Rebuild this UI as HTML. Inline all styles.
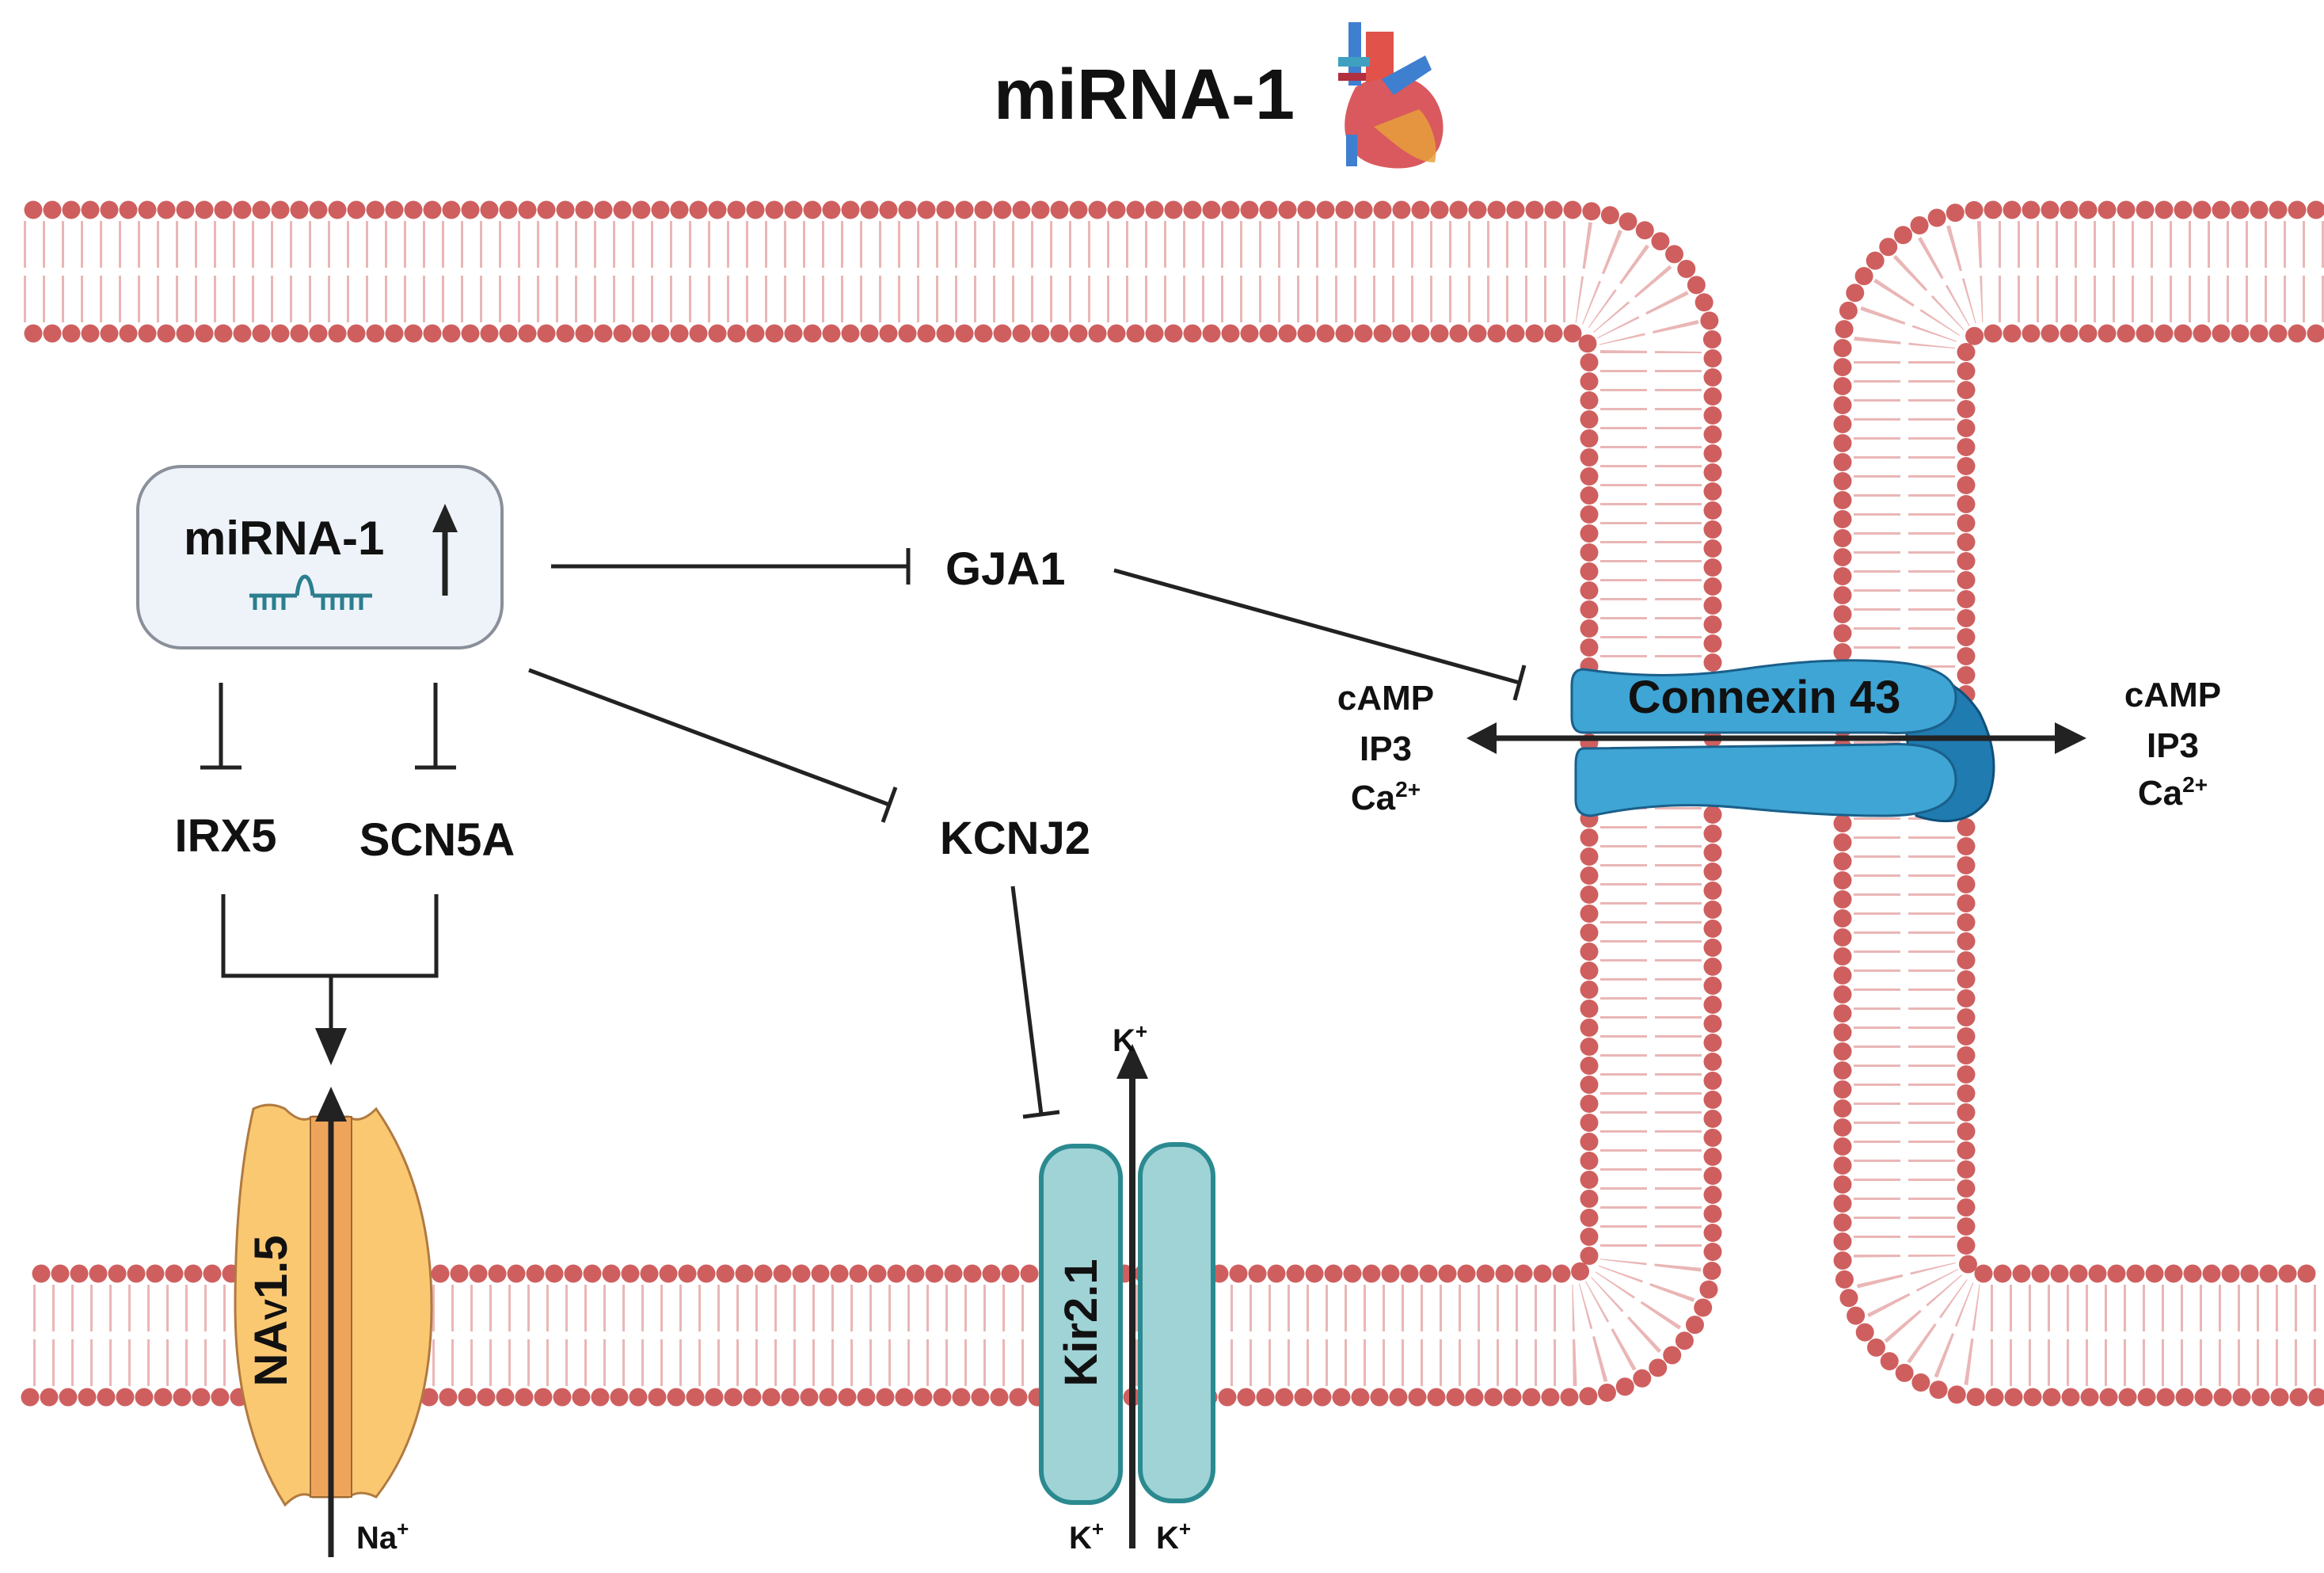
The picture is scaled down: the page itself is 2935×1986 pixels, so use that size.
<!DOCTYPE html>
<html><head><meta charset="utf-8"><style>
html,body{margin:0;padding:0;background:#fff}
svg{display:block}
text{font-family:"Liberation Sans",Arial,sans-serif;font-weight:bold;fill:#111}
</style></head><body>
<svg width="2935" height="1986" viewBox="0 0 2935 1986" xmlns="http://www.w3.org/2000/svg">
<!-- membranes: tails -->
<g fill="none">
<path d="M 30 343 H 1985 A 100 100 0 0 1 2085 443 V 1586 A 100 100 0 0 1 1985 1686 H 30" stroke="#eab6b6" stroke-width="128" stroke-dasharray="3 21"/>
<path d="M 2935 343 H 2505 A 100 100 0 0 0 2405 443 V 1586 A 100 100 0 0 0 2505 1686 H 2935" stroke="#eab6b6" stroke-width="128" stroke-dasharray="3 21"/>
<path d="M 30 343 H 1985 A 100 100 0 0 1 2085 443 V 1586 A 100 100 0 0 1 1985 1686 H 30" stroke="#fff" stroke-width="10"/>
<path d="M 2935 343 H 2505 A 100 100 0 0 0 2405 443 V 1586 A 100 100 0 0 0 2505 1686 H 2935" stroke="#fff" stroke-width="10"/>
<!-- heads -->
<g stroke="#cf5f5f" stroke-width="23" stroke-linecap="round" stroke-dasharray="0 24">
<path d="M 42 265 H 1985 A 178 178 0 0 1 2163 443 V 1586 A 178 178 0 0 1 1985 1764 H 30"/>
<path d="M 42 421 H 1985 A 22 22 0 0 1 2007 443 V 1586 A 22 22 0 0 1 1985 1608 H 30"/>
<path d="M 2925 265 H 2505 A 178 178 0 0 0 2327 443 V 1586 A 178 178 0 0 0 2505 1764 H 2935"/>
<path d="M 2925 421 H 2505 A 22 22 0 0 0 2483 443 V 1586 A 22 22 0 0 0 2505 1608 H 2935"/>
</g>
</g>

<!-- title -->
<text x="1445" y="150" font-size="90" text-anchor="middle">miRNA-1</text>
<!-- heart icon -->
<g>
<path d="M1712 110 C1690 150 1692 195 1735 208 C1770 218 1805 212 1818 185 C1832 150 1812 110 1782 100 C1760 95 1735 95 1712 110 Z" fill="#d9595e"/>
<path d="M1735 160 C1760 180 1785 205 1812 205 C1818 180 1805 150 1792 138 Z" fill="#e6a03a" opacity="0.85"/>
<rect x="1703" y="28" width="16" height="80" fill="#3f7fd0"/>
<rect x="1700" y="170" width="14" height="40" fill="#3f7fd0"/>
<path d="M1725 105 V40 H1760 V95 Z" fill="#e0524a"/>
<path d="M1745 100 L1800 70 L1808 88 L1760 120 Z" fill="#3f7fd0"/>
<rect x="1690" y="72" width="40" height="12" fill="#3fa0c0"/>
<rect x="1690" y="92" width="35" height="10" fill="#b03040"/>
</g>

<!-- miRNA box -->
<rect x="174" y="589" width="460" height="229" rx="55" fill="#eef3fa" stroke="#8a909a" stroke-width="4"/>
<text x="232" y="700" font-size="60">miRNA-1</text>
<line x1="562" y1="752" x2="562" y2="668" stroke="#222" stroke-width="7"/>
<path d="M546 672 L562 636 L578 672 Z" fill="#222"/>
<g stroke="#2b7e8e" stroke-width="5" fill="none">
<path d="M315 752 H375 M395 752 H470"/>
<path d="M375 752 C378 720 392 720 395 752"/>
<path d="M322 752 V770 M334 752 V770 M346 752 V770 M358 752 V770 M408 752 V770 M420 752 V770 M432 752 V770 M444 752 V770 M456 752 V770"/>
</g>

<!-- inhibition lines -->
<g stroke="#222" stroke-width="5" fill="none">
<line x1="696" y1="715" x2="1147" y2="715"/><line x1="1147" y1="692" x2="1147" y2="738"/>
<line x1="1407" y1="720" x2="1919" y2="862"/><line x1="1913" y1="884" x2="1925" y2="840"/>
<line x1="668" y1="846" x2="1123" y2="1016"/><line x1="1115" y1="1038" x2="1131" y2="994"/>
<line x1="279" y1="862" x2="279" y2="969"/><line x1="253" y1="969" x2="305" y2="969"/>
<line x1="550" y1="862" x2="550" y2="969"/><line x1="524" y1="969" x2="576" y2="969"/>
<line x1="1279" y1="1119" x2="1315" y2="1407"/><line x1="1292" y1="1410" x2="1338" y2="1404"/>
<path d="M282 1129 V1232 H551 V1129"/>
<line x1="418" y1="1232" x2="418" y2="1300"/>
</g>
<path d="M398 1298 L418 1345 L438 1298 Z" fill="#222"/>

<text x="1194" y="738" font-size="58">GJA1</text>
<text x="285" y="1075" font-size="58" text-anchor="middle">IRX5</text>
<text x="552" y="1080" font-size="58" text-anchor="middle">SCN5A</text>
<text x="1282" y="1078" font-size="58" text-anchor="middle">KCNJ2</text>

<!-- Nav1.5 -->
<path d="M320 1400 Q340 1390 360 1400 Q380 1420 395 1410 L440 1410 Q455 1420 475 1400 Q545 1500 545 1650 Q545 1800 475 1890 Q455 1880 440 1890 L395 1890 Q380 1880 360 1900 Q297 1800 297 1650 Q297 1500 320 1400 Z" fill="#fbc872" stroke="#b07a40" stroke-width="3"/>
<rect x="392" y="1410" width="52" height="480" fill="#eea55b" stroke="#9a6a35" stroke-width="2"/>
<line x1="418" y1="1966" x2="418" y2="1410" stroke="#222" stroke-width="7"/>
<path d="M398 1416 L418 1372 L438 1416 Z" fill="#222"/>
<text transform="translate(362 1655) rotate(-90)" font-size="58" text-anchor="middle">NA<tspan font-size="40">V</tspan>1.5</text>
<text x="450" y="1955" font-size="40">Na<tspan font-size="26" dy="-16">+</tspan></text>

<!-- Kir2.1 -->
<rect x="1315" y="1447" width="100" height="450" rx="40" fill="#9fd3d6" stroke="#2b8a90" stroke-width="6"/>
<rect x="1440" y="1445" width="92" height="450" rx="40" fill="#9fd3d6" stroke="#2b8a90" stroke-width="6"/>
<line x1="1430" y1="1955" x2="1430" y2="1355" stroke="#222" stroke-width="8"/>
<path d="M1410 1362 L1430 1318 L1450 1362 Z" fill="#222"/>
<text transform="translate(1385 1670) rotate(-90)" font-size="58" text-anchor="middle">Kir2.1</text>
<text x="1405" y="1327" font-size="40">K<tspan font-size="26" dy="-16">+</tspan></text>
<text x="1350" y="1955" font-size="40">K<tspan font-size="26" dy="-16">+</tspan></text>
<text x="1460" y="1955" font-size="40">K<tspan font-size="26" dy="-16">+</tspan></text>

<!-- Connexin 43 -->
<path d="M2400 860 Q2460 840 2500 900 Q2530 960 2510 1010 Q2480 1050 2420 1030 Z" fill="#1f7bb0" stroke="#0f4f78" stroke-width="3"/>
<path d="M2000 845 Q2100 860 2200 845 Q2300 830 2380 835 Q2470 840 2470 880 Q2470 930 2380 925 L2000 925 Q1985 925 1985 905 L1985 865 Q1985 845 2000 845 Z" fill="#3ea5d4" stroke="#1a5f8a" stroke-width="3"/>
<path d="M2000 945 L2380 940 Q2470 935 2470 985 Q2470 1030 2380 1030 Q2300 1030 2200 1020 Q2100 1010 2010 1030 Q1990 1030 1990 1010 L1990 965 Q1990 945 2000 945 Z" fill="#3ea5d4" stroke="#1a5f8a" stroke-width="3"/>
<text x="2228" y="900" font-size="58" text-anchor="middle" fill="#0d1a2a">Connexin 43</text>
<line x1="1880" y1="932" x2="2600" y2="932" stroke="#222" stroke-width="7"/>
<path d="M1890 912 L1852 932 L1890 952 Z" fill="#222"/>
<path d="M2595 912 L2635 932 L2595 952 Z" fill="#222"/>
<g font-size="44" text-anchor="middle">
<text x="1750" y="896">cAMP</text><text x="1750" y="960">IP3</text><text x="1750" y="1022">Ca<tspan font-size="28" dy="-16">2+</tspan></text>
<text x="2744" y="892">cAMP</text><text x="2744" y="956">IP3</text><text x="2744" y="1016">Ca<tspan font-size="28" dy="-16">2+</tspan></text>
</g>
</svg>
</body></html>
